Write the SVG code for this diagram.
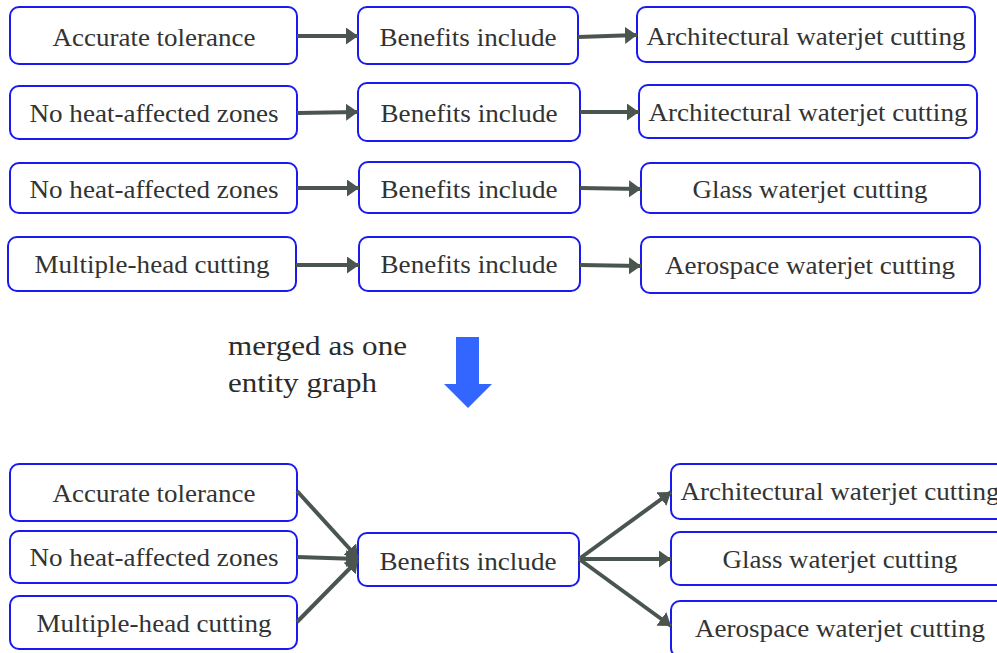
<svg xmlns="http://www.w3.org/2000/svg" width="997" height="653" viewBox="0 0 997 653">
  <style>
    .box { fill: #ffffff; stroke: #1a1aef; stroke-width: 2; }
    text { font-family: 'Liberation Serif', 'DejaVu Serif', 'Times New Roman', serif; lengthAdjust: spacingAndGlyphs; }
    .lbl { font-size: 25px; fill: #333333; text-anchor: middle; }
    .note { font-size: 28px; fill: #2b2b2b; }
    .edge { stroke: #4a554f; stroke-width: 4; fill: none; marker-end: url(#head); }
  </style>
  <defs>
    <marker id="head" markerUnits="userSpaceOnUse" markerWidth="14" markerHeight="18" refX="12" refY="8.5" orient="auto">
      <path d="M0,0 L12,8.5 L0,17 Z" fill="#4a554f"/>
    </marker>
  </defs>
  <rect width="997" height="653" fill="#ffffff"/>

  <!-- Row 1 -->
  <g id="r1-source"><rect class="box" x="10" y="7" width="287" height="57" rx="9"/><text class="lbl" x="154" y="46" textLength="203" lengthAdjust="spacingAndGlyphs">Accurate tolerance</text></g>
  <g id="r1-relation"><rect class="box" x="358" y="7" width="220" height="57" rx="9"/><text class="lbl" x="468" y="46" textLength="177" lengthAdjust="spacingAndGlyphs">Benefits include</text></g>
  <g id="r1-target"><rect class="box" x="637" y="7" width="338" height="55" rx="9"/><text class="lbl" x="806" y="45" textLength="319" lengthAdjust="spacingAndGlyphs">Architectural waterjet cutting</text></g>

  <!-- Row 2 -->
  <g id="r2-source"><rect class="box" x="10" y="86" width="287" height="53" rx="9"/><text class="lbl" x="154" y="122" textLength="249" lengthAdjust="spacingAndGlyphs">No heat-affected zones</text></g>
  <g id="r2-relation"><rect class="box" x="358" y="83" width="222" height="58" rx="9"/><text class="lbl" x="469" y="122" textLength="177" lengthAdjust="spacingAndGlyphs">Benefits include</text></g>
  <g id="r2-target"><rect class="box" x="639" y="85" width="338" height="53" rx="9"/><text class="lbl" x="808" y="121" textLength="319" lengthAdjust="spacingAndGlyphs">Architectural waterjet cutting</text></g>

  <!-- Row 3 -->
  <g id="r3-source"><rect class="box" x="10" y="163" width="287" height="50" rx="9"/><text class="lbl" x="154" y="198" textLength="249" lengthAdjust="spacingAndGlyphs">No heat-affected zones</text></g>
  <g id="r3-relation"><rect class="box" x="359" y="162" width="221" height="51" rx="9"/><text class="lbl" x="469" y="198" textLength="177" lengthAdjust="spacingAndGlyphs">Benefits include</text></g>
  <g id="r3-target"><rect class="box" x="641" y="163" width="339" height="50" rx="9"/><text class="lbl" x="810" y="198" textLength="235" lengthAdjust="spacingAndGlyphs">Glass waterjet cutting</text></g>

  <!-- Row 4 -->
  <g id="r4-source"><rect class="box" x="8" y="237" width="288" height="54" rx="9"/><text class="lbl" x="152" y="273" textLength="235" lengthAdjust="spacingAndGlyphs">Multiple-head cutting</text></g>
  <g id="r4-relation"><rect class="box" x="359" y="237" width="221" height="54" rx="9"/><text class="lbl" x="469" y="273" textLength="177" lengthAdjust="spacingAndGlyphs">Benefits include</text></g>
  <g id="r4-target"><rect class="box" x="641" y="237" width="339" height="56" rx="9"/><text class="lbl" x="810" y="274" textLength="290" lengthAdjust="spacingAndGlyphs">Aerospace waterjet cutting</text></g>

  <!-- Merge note and arrow -->
  <g id="merge-note">
    <text class="note" x="228" y="355" textLength="179" lengthAdjust="spacingAndGlyphs">merged as one</text>
    <text class="note" x="228" y="392" textLength="149" lengthAdjust="spacingAndGlyphs">entity graph</text>
  </g>
  <g id="merge-arrow">
    <path d="M456,337 L479,337 L479,384 L492,384 L468,408 L444,384 L456,384 Z" fill="#3366ff"/>
  </g>

  <!-- Merged graph nodes -->
  <g id="m-accurate"><rect class="box" x="10" y="464" width="287" height="57" rx="9"/><text class="lbl" x="154" y="502" textLength="203" lengthAdjust="spacingAndGlyphs">Accurate tolerance</text></g>
  <g id="m-noheat"><rect class="box" x="10" y="531" width="287" height="52" rx="9"/><text class="lbl" x="154" y="566" textLength="249" lengthAdjust="spacingAndGlyphs">No heat-affected zones</text></g>
  <g id="m-multihead"><rect class="box" x="10" y="596" width="287" height="53" rx="9"/><text class="lbl" x="154" y="632" textLength="235" lengthAdjust="spacingAndGlyphs">Multiple-head cutting</text></g>
  <g id="m-benefits"><rect class="box" x="358" y="533" width="221" height="53" rx="9"/><text class="lbl" x="468" y="570" textLength="177" lengthAdjust="spacingAndGlyphs">Benefits include</text></g>
  <g id="m-architectural"><rect class="box" x="671" y="464" width="338" height="55" rx="9"/><text class="lbl" x="840" y="500" textLength="319" lengthAdjust="spacingAndGlyphs">Architectural waterjet cutting</text></g>
  <g id="m-glass"><rect class="box" x="671" y="532" width="338" height="53" rx="9"/><text class="lbl" x="840" y="568" textLength="235" lengthAdjust="spacingAndGlyphs">Glass waterjet cutting</text></g>
  <g id="m-aerospace"><rect class="box" x="671" y="601" width="338" height="56" rx="9"/><text class="lbl" x="840" y="637" textLength="290" lengthAdjust="spacingAndGlyphs">Aerospace waterjet cutting</text></g>

  <!-- Connectors -->
  <g id="connectors">
    <line class="edge" x1="297" y1="36" x2="358" y2="36"/>
    <line class="edge" x1="578" y1="37" x2="637" y2="35"/>
    <line class="edge" x1="297" y1="113" x2="358" y2="112"/>
    <line class="edge" x1="580" y1="112" x2="639" y2="112"/>
    <line class="edge" x1="297" y1="188" x2="359" y2="188"/>
    <line class="edge" x1="580" y1="188" x2="641" y2="189"/>
    <line class="edge" x1="296" y1="265" x2="359" y2="265"/>
    <line class="edge" x1="580" y1="265" x2="641" y2="266"/>

    <line class="edge" x1="297" y1="491" x2="358" y2="558"/>
    <line class="edge" x1="297" y1="557" x2="358" y2="559"/>
    <line class="edge" x1="297" y1="622" x2="358" y2="560"/>
    <line class="edge" x1="579" y1="559" x2="671" y2="492"/>
    <line class="edge" x1="579" y1="559" x2="671" y2="559"/>
    <line class="edge" x1="579" y1="559" x2="671" y2="626"/>
  </g>
</svg>
